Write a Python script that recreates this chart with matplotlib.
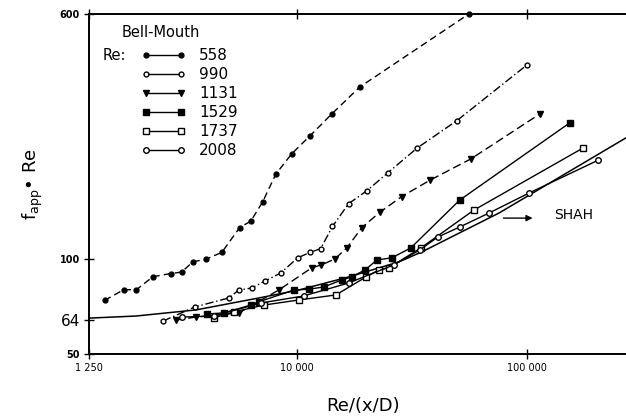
import matplotlib
matplotlib.use('Agg')
import matplotlib.pyplot as plt
from matplotlib.lines import Line2D

plt.rcParams['font.family'] = ['DejaVu Sans']

# apparent friction factor data, bell-mouth inlet
re558_x = [1460, 1770, 2010, 2370, 2830, 3160, 3530, 4020, 4720, 5650, 6310, 7110, 8100, 9510, 11400, 14200, 18800, 56000]
re558_y = [74, 80, 80, 88, 90, 91, 98, 100, 105, 126, 132, 152, 186, 216, 246, 289, 352, 600]

re990_x = [2620, 3600, 5060, 5600, 6370, 7260, 8520, 10100, 11400, 12700, 14300, 16800, 20200, 24900, 33300, 49600, 100000]
re990_y = [63.6, 70.5, 75.3, 79.8, 81.0, 85.2, 90.4, 101, 105, 108, 127, 150, 165, 188, 225, 275, 413]

re1131_x = [2980, 3640, 5600, 8350, 11600, 12800, 14600, 16500, 19200, 23000, 28600, 37900, 57100, 114000]
re1131_y = [64.1, 65.5, 67.5, 79.8, 93.8, 95.9, 100, 108.5, 126, 141, 158, 178, 208, 289]

re1529_x = [4060, 4820, 6310, 6840, 9700, 11300, 13100, 15700, 17300, 19800, 22300, 25900, 31300, 51100, 154000]
re1529_y = [67.0, 67.5, 71.5, 73.2, 79.8, 80.3, 81.6, 85.9, 87.8, 92.4, 99.4, 101, 108.5, 154, 271]

re1737_x = [4360, 5320, 7190, 10200, 14800, 20000, 22700, 25100, 34600, 58800, 175000]
re1737_y = [65.1, 68.0, 71.5, 74.2, 77.0, 87.8, 92.4, 93.8, 108.5, 143, 225]

re2008_x = [3160, 4360, 6980, 10700, 16800, 26400, 34300, 41000, 51100, 68400, 102000, 204000]
re2008_y = [65.5, 66.0, 72.6, 76.4, 84.0, 95.9, 107, 117.5, 126.5, 140, 162, 206]

shah_x = [1250, 2000, 3640, 6840, 10200, 16800, 27800, 35000, 75600, 300000]
shah_y = [65, 66, 69, 75.3, 79.8, 87.8, 98, 105.5, 140, 254]

series = [
    ('558', re558_x, re558_y, 'o', 'k', (0, (5, 3)), 3.5),
    ('990', re990_x, re990_y, 'o', 'white', (0, (6, 2, 1, 2)), 3.5),
    ('1131', re1131_x, re1131_y, 'v', 'k', (0, (6, 3)), 4),
    ('1529', re1529_x, re1529_y, 's', 'k', '-', 4),
    ('1737', re1737_x, re1737_y, 's', 'white', '-', 4),
    ('2008', re2008_x, re2008_y, 'o', 'white', '-', 4),
]

fig = plt.figure(figsize=(6.26, 4.19), dpi=100)
ax = fig.add_axes([0.1422, 0.1551, 0.8746, 0.8115])
ax.set_xscale('log')
ax.set_yscale('log')

ax.plot(shah_x, shah_y, color='k', lw=1.1)

handles = []
for name, xs, ys, mk, fc, ls, ms in series:
    ax.plot(xs, ys, color='k', ls=ls, lw=1, marker=mk, ms=ms, mfc=fc, mec='k',
            mew=1, clip_on=(name != '558'), zorder=3)
    handles.append(Line2D([0], [0], color='k', lw=1, marker=mk, ms=ms, mfc=fc,
                          mec='k', mew=1))

ax.set_xlim(1250, 300000)
ax.set_ylim(50, 600)
ax.minorticks_off()

ax.set_xticks([1250, 10000, 100000])
ax.set_xticklabels(['1 250', '10 000', '100 000'], fontsize=7)
ax.set_yticks([50, 64, 100, 600])
ax.set_yticklabels(['50', '64', '100', '600'], fontsize=7, fontweight='bold')
ax.get_yticklabels()[1].set_fontsize(11)
ax.get_yticklabels()[1].set_fontweight('normal')
ax.tick_params(axis='both', direction='inout', length=7, width=1, top=True, pad=3)

for side in ['left', 'bottom', 'top']:
    ax.spines[side].set_linewidth(1.4)
ax.spines['right'].set_visible(False)

ax.set_xlabel('Re/(x/D)', fontsize=13)
ax.xaxis.set_label_coords(0.5, -0.125)
ax.set_ylabel(r'$\mathregular{f_{app}}$' + '• Re', fontsize=13)
ax.yaxis.set_label_coords(-0.08, 0.5)

leg = ax.legend(handles, [s[0] for s in series], loc='upper left',
                bbox_to_anchor=(0.095, 0.9), frameon=False, numpoints=2,
                handlelength=2.9, handletextpad=0.9, labelspacing=0.26,
                fontsize=11, borderpad=0, borderaxespad=0)
ax.text(0.060, 0.947, 'Bell-Mouth', transform=ax.transAxes, fontsize=10.5, va='center')
ax.text(0.024, 0.879, 'Re:', transform=ax.transAxes, fontsize=10.5, va='center')

ax.annotate('', xy=(109000, 135), xytext=(77000, 135),
            arrowprops=dict(arrowstyle='-|>', color='k', lw=1, mutation_scale=9))
ax.text(131000, 138, 'SHAH', fontsize=10, va='center')

fig.savefig('out.png', dpi=100)
